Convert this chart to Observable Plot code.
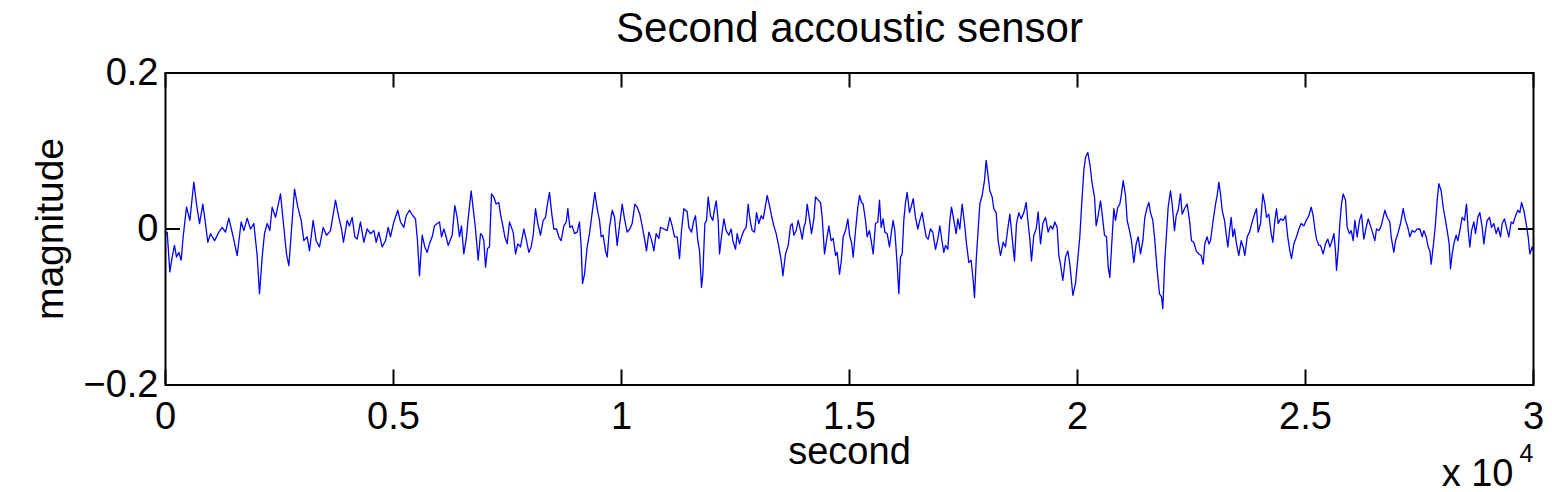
<!DOCTYPE html>
<html>
<head>
<meta charset="utf-8">
<script src="https://cdn.jsdelivr.net/npm/d3@7"></script>
<script src="https://cdn.jsdelivr.net/npm/@observablehq/plot@0.6"></script>
<style>
  html, body { margin: 0; padding: 0; background: #fff; }
  #chart svg { display: block; }
</style>
</head>
<body>
<div id="chart"></div>
<script>
// ---- chart text ----
const titleText = "Second accoustic sensor";
const xLabelText = "second";
const yLabelText = "magnitude";
const xMultiplier = "x 10";
const xExponent = "4";

// ---- ticks ----
const xTicks = [0, 5000, 10000, 15000, 20000, 25000, 30000];
const yTicks = [-0.2, 0, 0.2];

// ---- series (time in seconds, magnitude) ----
const seconds = [
  0,37,95,146,197,241,292,344,387,461, 534,621,680,746,819,877,928,987,1075,1170,
  1243,1316,1389,1484,1572,1659,1718,1791,1864,1937, 2010,2061,2120,2171,2230,2288,2339,2412,2522,2595,
  2653,2705,2778,2829,2902,2975,3034,3107,3158,3238, 3304,3377,3458,3531,3619,3728,3801,
  3860,3903,3984,4035,4094,4152,4203,4276,4349,4422, 4496,4569,4620,4678,4751,4825,4883,4934,5007,5095,
  5153,5227,5278,5351,5424,5482,5526,5570,5629,5687, 5738,5789,5848,5899,5958,6009,6053,6104,6155,6199,
  6287,6345,6396,6447,6491,6542,6601,6637,6703,6762, 6798,6857,6908,6944,6981,7018,7061,7105,7149,7200,
  7251,7310,7346,7398,7442,7493,7544,
  7624,7676,7727,7785,7858,7917,7968,8019,8063,8114, 8165,8224,8282,8334,8370,8421,8472,8516,8575,8626,
  8677,8736,8787,8823,8867,8918,8970,9028,9079,9116, 9145,9189,9247,9298,9357,9415,9467,9518,9554,9598,
  9649,9686,9737,9796,9847,9905,9956,10015,10066,10125, 10183,10234,10293,10344,10402,10453,10512,10548,10600,10651,
  10709,10760,10819,10856,10929,11002,11060,11111,11163,11221, 11272,11316,11367,
  11441,11477,11536,11587,11623,11674,11711,11755,11784,11828, 11865,11901,11952,12003,12047,12077,12120,12150,12193,12245,
  12296,12354,12405,12442,12501,12537,12588,12632,12683,12734, 12778,12815,12866,12917,12961,13012,13063,13107,13158,13195,
  13246,13290,13341,13392,13451,13502,13539,13597,13656,13707, 13743,13780,13831,13875,13926,13963,13999,14036,14072,14123,
  14167,14218,14255,14313,14365,14401,14452,14496,14547,14598, 14642,14694,14730,14781,14818,14862,14913,14964,15001,15044,
  15081,15132,15183,15220,
  15264,15299,15351,15387,15438,15475,15519,15570,15621,15658, 15694,15738,15775,15826,15877,15914,15957,15994,16045,16082,
  16118,16155,16191,16228,16264,16316,16352,16396,16447,16498, 16542,16593,16630,16681,16725,16776,16827,16886,16937,16981,
  17032,17069,17105,17156,17200,17237,17288,17339,17376,17419, 17471,17522,17566,17617,17668,17712,17741,17778,17814,17858,
  17909,17960,17997,18033,18077,18128,18165,18216,18260,18311, 18370,18421,18457,18516,18567,18618,18662,18713,18764,18823,
  18874,18918,18955,18991,19042,19094,
  19137,19189,19240,19298,19357,19408,19459,19503,19554,19591, 19627,19678,19737,19788,19832,19898,19956,20007,20051,20088,
  20139,20176,20227,20271,20322,20373,20409,20453,20504,20541, 20592,20636,20673,20709,20760,20797,20833,20885,20928,20965,
  21002,21053,21089,21140,21184,21235,21287,21331,21382,21433, 21477,21528,21564,21601,21652,21696,21747,21798,21842,21871,
  21915,21952,21988,22040,22076,22127,22164,22208,22259,22295, 22346,22405,22456,22500,22551,22602,22661,22712,22756,22792,
  22844,22880,
  22917,22975,23027,23063,23100,23136,23173,23224,23268,23297, 23334,23370,23407,23443,23487,23538,23590,23633,23670,23721,
  23772,23831,23882,23926,23962,24014,24065,24109,24145,24196, 24247,24284,24328,24364,24401,24452,24511,24562,24613,24657,
  24693,24745,24803,24854,24905,24964,25015,25073,25125,25168, 25205,25242,25293,25329,25388,25439,25490,25534,25571,25622,
  25658,25680,25717,25753,25790,25826,25878,25914,25965,26002, 26046,26082,26133,26184,26228,26280,26331,26375,26426,26477,
  26521,26557,26609,26660,26704,26740,26791,26850,
  26879,26937,26974,27025,27084,27142,27193,27244,27288,27339, 27391,27449,27508,27559,27595,27646,27690,27727,27756,27800,
  27851,27888,27924,27975,28019,28070,28107,28151,28180,28217, 28253,28304,28341,28385,28436,28487,28531,28568,28604,28641,
  28692,28728,28780,28823,28875,28911,28948,28984,29035,29079, 29130,29182,29225,29277,29313,29364,29408,29459,29510,29554,
  29606,29657,29701,29737,29788,29839,29883,29920,29971,30000
];
const magnitude = [
  -0.006,-0.004,-0.055,-0.036,-0.021,-0.036,-0.030,-0.040,-0.010,0.028, 0.011,0.060,0.032,0.007,0.032,0.007,-0.017,-0.006,-0.015,-0.004,
  0.002,-0.004,0.014,-0.010,-0.034,0.009,-0.002,0.014,0.000,0.007, -0.034,-0.083,-0.036,-0.006,0.007,-0.002,0.028,0.015,0.045,0.002,
  -0.032,-0.047,0.011,0.051,0.028,0.011,-0.015,-0.010,-0.028,0.011, -0.015,-0.023,0.002,-0.008,-0.002,0.037,0.015,
  0.000,-0.017,0.011,0.004,0.015,-0.010,-0.013,0.009,-0.017,0.000, -0.006,-0.002,-0.017,-0.004,-0.023,-0.015,0.002,-0.010,0.009,0.024,
  0.009,0.002,0.017,0.024,0.017,0.013,-0.015,-0.060,-0.008,-0.023, -0.030,-0.019,-0.010,0.004,0.007,0.009,-0.010,0.000,-0.010,-0.021,
  -0.008,0.030,0.015,-0.010,0.004,-0.032,-0.010,0.013,0.049,0.019, 0.000,-0.040,-0.006,-0.008,-0.015,-0.049,-0.025,-0.023,0.045,0.041,
  0.032,0.034,0.019,0.004,-0.010,-0.019,0.009,
  -0.004,-0.032,-0.019,-0.023,0.000,-0.015,-0.030,-0.023,-0.008,0.026, 0.007,-0.008,0.011,0.015,0.030,0.047,0.019,0.000,0.000,-0.010,
  -0.015,0.004,0.009,0.026,0.002,0.004,-0.006,-0.004,0.009,-0.023, -0.070,-0.058,-0.023,-0.006,0.021,0.047,0.026,0.011,-0.010,-0.008,
  -0.028,-0.036,0.002,0.024,0.015,-0.021,0.004,0.032,0.013,-0.004, 0.000,0.007,0.032,0.028,0.019,0.004,-0.015,-0.028,-0.004,-0.012,
  -0.028,-0.006,-0.012,0.002,0.000,-0.002,0.015,0.004,-0.010,-0.010, -0.038,-0.002,0.026,
  0.022,0.002,-0.004,0.011,0.017,-0.015,-0.028,-0.075,-0.058,0.007, 0.011,0.041,0.017,0.011,0.028,0.036,0.011,-0.032,-0.010,0.013,
  -0.002,-0.008,0.000,-0.015,-0.026,-0.006,-0.019,-0.010,-0.002,0.002, 0.032,0.013,-0.002,-0.004,0.021,0.007,0.017,0.013,0.030,0.043,
  0.030,0.017,0.004,-0.006,-0.023,-0.040,-0.060,-0.032,-0.021,0.004, 0.007,-0.008,-0.002,0.011,-0.002,-0.013,0.002,0.009,0.032,0.013,
  -0.006,0.013,0.041,0.037,0.034,0.015,-0.032,-0.015,0.004,-0.015, -0.012,-0.034,-0.030,-0.058,-0.042,-0.010,-0.002,0.013,-0.008,-0.017,
  -0.036,-0.002,0.028,0.043,
  0.034,0.032,0.011,-0.010,-0.002,-0.015,-0.032,0.007,0.009,0.037, 0.002,0.013,-0.004,-0.006,-0.023,-0.006,0.011,-0.002,-0.045,-0.083,
  -0.036,-0.032,0.011,0.034,0.047,0.021,0.028,0.039,0.015,0.000, 0.011,0.021,0.007,-0.010,-0.013,0.000,-0.004,-0.026,-0.013,0.004,
  -0.017,-0.030,-0.021,-0.026,0.011,0.028,0.011,-0.006,0.013,0.000, 0.032,0.007,-0.019,-0.043,-0.040,-0.066,-0.088,-0.040,-0.008,0.032,
  0.043,0.062,0.088,0.071,0.049,0.041,0.026,0.021,-0.015,-0.034, -0.017,-0.023,-0.006,0.019,-0.011,-0.041,0.007,0.021,0.013,0.021,
  0.034,0.007,-0.013,-0.041,-0.008,0.000,
  0.022,-0.019,0.007,0.015,-0.004,0.004,0.000,0.009,0.002,-0.034, -0.045,-0.066,-0.036,-0.028,-0.045,-0.085,-0.070,-0.038,-0.010,0.028,
  0.075,0.092,0.098,0.083,0.058,0.041,0.004,0.017,0.036,0.019, -0.008,-0.010,-0.049,-0.062,-0.010,0.026,0.011,0.028,0.032,0.045,
  0.062,0.043,0.011,-0.002,-0.015,-0.043,-0.019,-0.010,-0.032,-0.015, 0.015,0.028,0.034,0.021,0.011,-0.015,-0.053,-0.083,-0.087,-0.102,
  -0.040,-0.006,0.028,0.049,0.032,-0.002,0.017,0.024,0.045,0.019, 0.026,0.032,0.011,-0.015,-0.017,-0.028,-0.032,-0.034,-0.045,-0.019,
  -0.010,-0.019,
  -0.015,0.011,0.032,0.043,0.060,0.045,0.024,0.011,-0.010,-0.023, -0.002,0.015,-0.010,0.000,-0.019,-0.034,-0.015,-0.023,-0.034,-0.010,
  -0.004,0.009,0.019,0.026,-0.004,0.007,0.045,0.032,0.015,0.019, -0.006,-0.017,0.011,0.026,0.007,0.013,0.011,0.017,-0.011,-0.028,
  -0.038,-0.019,-0.010,0.000,0.007,0.004,0.011,0.017,0.028,0.017, 0.000,-0.013,-0.021,-0.021,-0.032,-0.019,-0.013,-0.023,-0.017,-0.006,
  -0.028,-0.053,-0.028,0.007,0.032,0.045,0.037,0.002,-0.006,-0.002, -0.015,0.011,-0.010,0.011,0.019,-0.013,0.002,0.013,0.004,-0.006,
  -0.015,0.000,-0.002,0.004,0.015,0.024,0.015,0.009,
  -0.010,-0.030,-0.015,-0.006,0.007,0.026,0.011,0.002,-0.010,-0.002, -0.004,0.000,0.000,-0.010,-0.002,-0.010,-0.023,-0.028,-0.045,-0.023,
  0.007,0.037,0.058,0.049,0.028,0.011,-0.002,-0.019,-0.051,-0.032, -0.019,-0.008,-0.015,-0.002,0.015,0.011,0.032,-0.002,-0.023,-0.002,
  0.009,-0.006,0.015,0.021,0.002,-0.019,-0.002,0.011,0.015,0.002, 0.007,-0.006,0.002,-0.010,0.007,0.013,0.002,-0.010,0.009,0.007,
  0.017,0.024,0.021,0.034,0.024,0.007,-0.010,-0.032,-0.023,-0.028
];

const n = Math.min(seconds.length, magnitude.length);
const data = d3.range(n).map(i => ({t: seconds[i], m: magnitude[i]}));

const font = '"Liberation Sans", Arial, Helvetica, sans-serif';
const W = 1552, H = 492;
const mL = 165, mR = 19, mT = 72.5, mB = 107.5;
const innerW = W - mL - mR, innerH = H - mT - mB;
const tickLen = 15;

const chart = Plot.plot({
  width: W,
  height: H,
  marginLeft: mL,
  marginRight: mR,
  marginTop: mT,
  marginBottom: mB,
  style: {fontFamily: font, background: "#fff", color: "#000", overflow: "visible"},
  x: {domain: [0, 30000], label: null},
  y: {domain: [-0.2, 0.2], label: null},
  marks: [
    Plot.lineY(data, {x: "t", y: "m", stroke: "#0000ff", strokeWidth: 1.3}),
    // inward ticks, on all four sides like MATLAB
    Plot.tickX(xTicks, {x: d => d, insetTop: innerH - tickLen, stroke: "#000", strokeWidth: 2}),
    Plot.tickX(xTicks, {x: d => d, insetBottom: innerH - tickLen, stroke: "#000", strokeWidth: 2}),
    Plot.tickY(yTicks, {y: d => d, insetRight: innerW - tickLen, stroke: "#000", strokeWidth: 2}),
    Plot.tickY(yTicks, {y: d => d, insetLeft: innerW - tickLen, stroke: "#000", strokeWidth: 2}),
    Plot.frame({stroke: "#000", strokeWidth: 2}),
    Plot.axisX({ticks: xTicks, tickSize: 0, tickPadding: 17, fontSize: 38, label: null,
                tickFormat: d => String(d / 1e4)}),
    Plot.axisY({ticks: yTicks, tickSize: 0, tickPadding: 7, fontSize: 38, label: null,
                tickFormat: d => d === 0 ? "0" : d3.format(".1f")(d)}),
    Plot.text([titleText], {text: d => d, frameAnchor: "top", textAnchor: "middle", lineAnchor: "bottom", dy: -31.5, fontSize: 42, fill: "#000"}),
    Plot.text([xLabelText], {text: d => d, frameAnchor: "bottom", textAnchor: "middle", lineAnchor: "bottom", dy: 78.5, fontSize: 38, fill: "#000"}),
    Plot.text([yLabelText], {text: d => d, frameAnchor: "left", textAnchor: "middle", lineAnchor: "middle", rotate: -90, dx: -115, fontSize: 39, fill: "#000"}),
    Plot.text([xMultiplier], {text: d => d, frameAnchor: "bottom-right", textAnchor: "end", lineAnchor: "bottom", dx: -20, dy: 100.5, fontSize: 38, fill: "#000"}),
    Plot.text([xExponent], {text: d => d, frameAnchor: "bottom-right", textAnchor: "end", lineAnchor: "bottom", dx: 0, dy: 76.5, fontSize: 25, fill: "#000"})
  ]
});

document.getElementById("chart").appendChild(chart);
</script>
</body>
</html>
